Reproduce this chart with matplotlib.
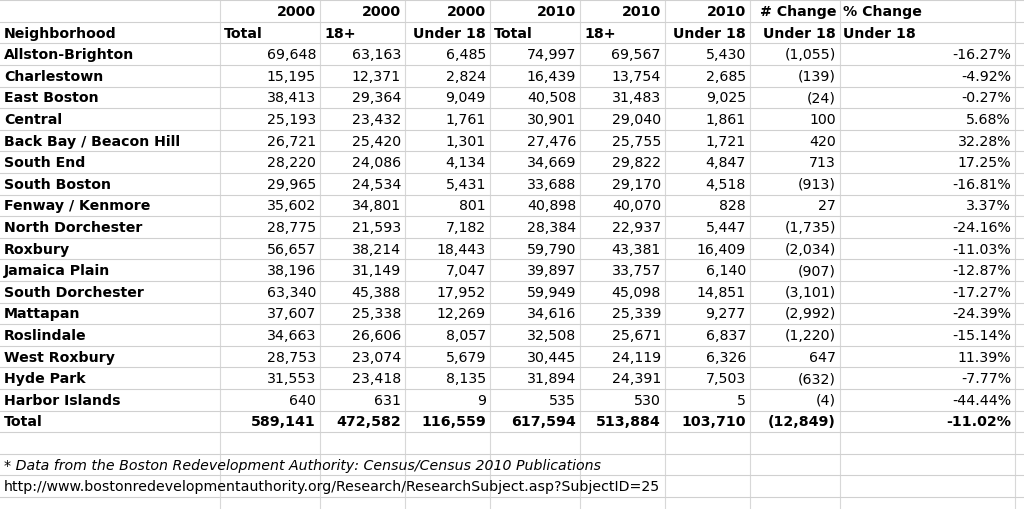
import matplotlib
matplotlib.use("Agg")
import matplotlib.pyplot as plt

header1 = ["", "2000", "2000", "2000", "2010", "2010", "2010", "# Change", "% Change"]
header2 = ["Neighborhood", "Total", "18+", "Under 18", "Total", "18+", "Under 18", "Under 18", "Under 18"]

neighborhoods = ["Allston-Brighton", "Charlestown", "East Boston", "Central",
                 "Back Bay / Beacon Hill", "South End", "South Boston", "Fenway / Kenmore",
                 "North Dorchester", "Roxbury", "Jamaica Plain", "South Dorchester",
                 "Mattapan", "Roslindale", "West Roxbury", "Hyde Park", "Harbor Islands"]
total_2000 = [69648, 15195, 38413, 25193, 26721, 28220, 29965, 35602, 28775, 56657,
              38196, 63340, 37607, 34663, 28753, 31553, 640]
adult_2000 = [63163, 12371, 29364, 23432, 25420, 24086, 24534, 34801, 21593, 38214,
              31149, 45388, 25338, 26606, 23074, 23418, 631]
under_2000 = [6485, 2824, 9049, 1761, 1301, 4134, 5431, 801, 7182, 18443,
              7047, 17952, 12269, 8057, 5679, 8135, 9]
total_2010 = [74997, 16439, 40508, 30901, 27476, 34669, 33688, 40898, 28384, 59790,
              39897, 59949, 34616, 32508, 30445, 31894, 535]
adult_2010 = [69567, 13754, 31483, 29040, 25755, 29822, 29170, 40070, 22937, 43381,
              33757, 45098, 25339, 25671, 24119, 24391, 530]
under_2010 = [5430, 2685, 9025, 1861, 1721, 4847, 4518, 828, 5447, 16409,
              6140, 14851, 9277, 6837, 6326, 7503, 5]
change = [-1055, -139, -24, 100, 420, 713, -913, 27, -1735, -2034,
          -907, -3101, -2992, -1220, 647, -632, -4]
pct_change = [-16.27, -4.92, -0.27, 5.68, 32.28, 17.25, -16.81, 3.37, -24.16, -11.03,
              -12.87, -17.27, -24.39, -15.14, 11.39, -7.77, -44.44]
totals = ["589,141", "472,582", "116,559", "617,594", "513,884", "103,710", "(12,849)", "-11.02%"]
footnote = "* Data from the Boston Redevelopment Authority: Census/Census 2010 Publications"
url = "http://www.bostonredevelopmentauthority.org/Research/ResearchSubject.asp?SubjectID=25"


def fmt_change(v):
    return f"({abs(v):,})" if v < 0 else f"{v:,}"


col_edges = [0, 220, 320, 405, 490, 580, 665, 750, 840, 1015, 1024]
row_h = 21.6
y0 = 12

fig = plt.figure(figsize=(10.24, 5.10), dpi=100)
ax = fig.add_axes([0, 0, 1, 1])
ax.set_xlim(0, 1024)
ax.set_ylim(510, 0)
ax.axis("off")

# grille du tableur
for x in col_edges[1:-1]:
    ax.axvline(x, color="#d8d8d8", lw=0.8)
k = 0
while y0 - row_h / 2 + k * row_h < 510:
    ax.axhline(y0 - row_h / 2 + k * row_h, color="#d0d0d0", lw=0.8)
    k += 1

fs = 10.2


def put_row(r, cells, bold_all=False):
    y = y0 + r * row_h
    for i, c in enumerate(cells):
        w = "bold" if (bold_all or i == 0) else "normal"
        if i == 0:
            ax.text(col_edges[0] + 4, y, c, ha="left", va="center", fontsize=fs, fontweight=w)
        else:
            ax.text(col_edges[i + 1] - 4, y, c, ha="right", va="center", fontsize=fs, fontweight=w)


# en-têtes
for i, (a, b) in enumerate(zip(header1, header2)):
    if i == 0:
        ax.text(4, y0 + row_h, b, ha="left", va="center", fontsize=fs, fontweight="bold")
        continue
    if i == 8:
        ax.text(col_edges[i] + 3, y0, a, ha="left", va="center", fontsize=fs, fontweight="bold")
        ax.text(col_edges[i] + 3, y0 + row_h, b, ha="left", va="center", fontsize=fs, fontweight="bold")
        continue
    ax.text(col_edges[i + 1] - 4, y0, a, ha="right", va="center", fontsize=fs, fontweight="bold")
    if b in ("Total", "18+"):
        ax.text(col_edges[i] + 4, y0 + row_h, b, ha="left", va="center", fontsize=fs, fontweight="bold")
    else:
        ax.text(col_edges[i + 1] - 4, y0 + row_h, b, ha="right", va="center", fontsize=fs, fontweight="bold")

for j, n in enumerate(neighborhoods):
    cells = [n, f"{total_2000[j]:,}", f"{adult_2000[j]:,}", f"{under_2000[j]:,}",
             f"{total_2010[j]:,}", f"{adult_2010[j]:,}", f"{under_2010[j]:,}",
             fmt_change(change[j]), f"{pct_change[j]:.2f}%"]
    put_row(j + 2, cells)

put_row(len(neighborhoods) + 2, ["Total"] + totals, bold_all=True)

ax.text(4, y0 + 21 * row_h, footnote, ha="left", va="center", fontsize=fs, style="italic")
ax.text(4, y0 + 22 * row_h, url, ha="left", va="center", fontsize=fs)

fig.savefig("out.png", dpi=100)
